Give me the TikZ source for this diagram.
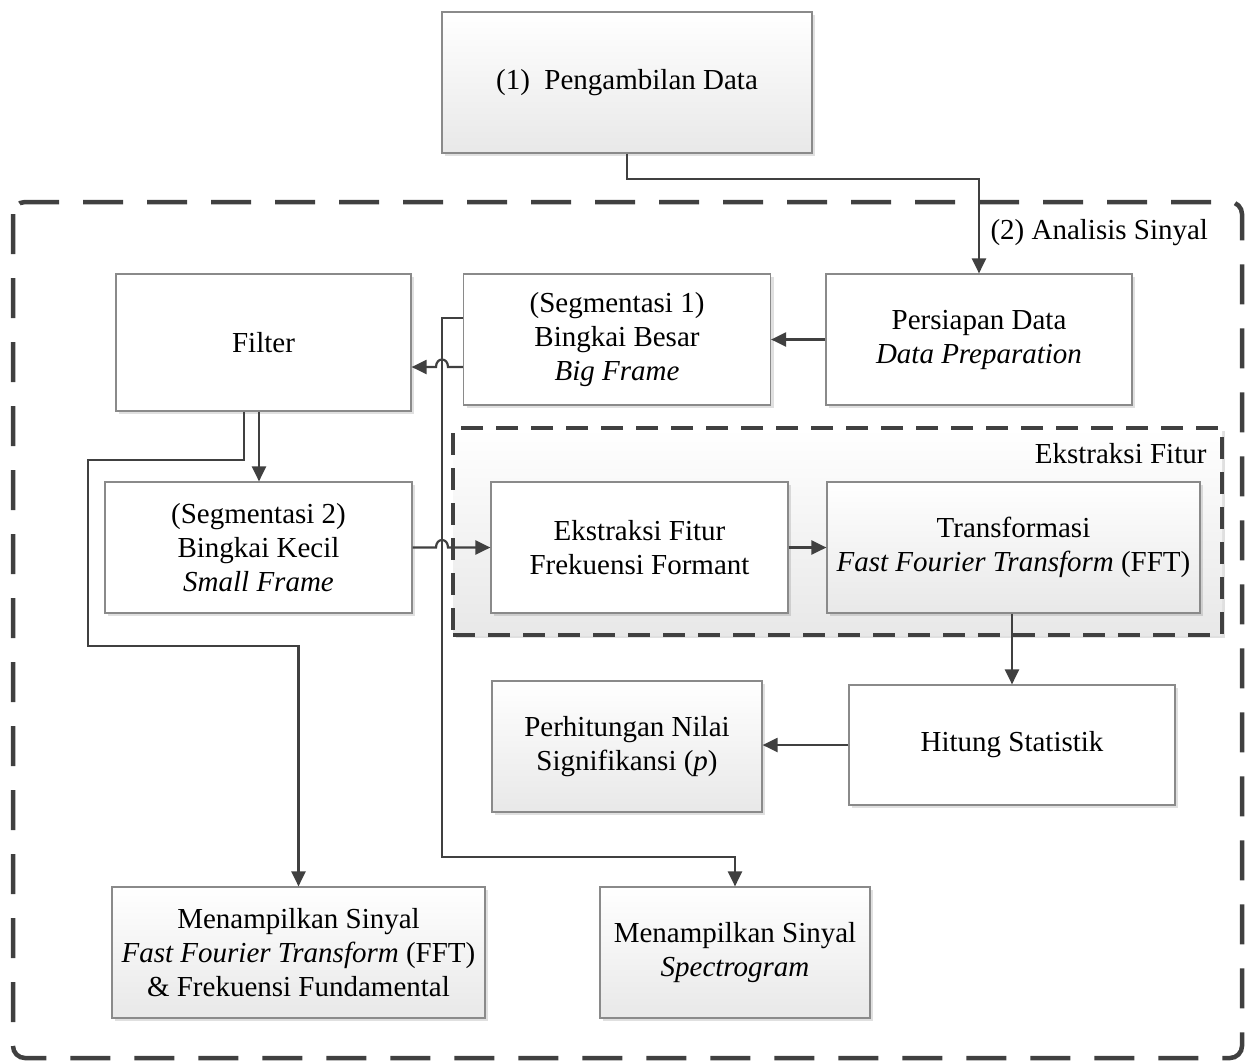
\documentclass[tikz,border=0pt]{standalone}
\usepackage{fontspec}
\setmainfont{Liberation Serif}
\usetikzlibrary{arrows.meta,shadows}
\definecolor{ln}{HTML}{404040}
\definecolor{bd}{HTML}{8A8A8A}
\begin{document}
\begin{tikzpicture}[x=1pt,y=-1pt,
  txt/.style={font=\fontsize{29}{34}\selectfont, align=center},
  box/.style={txt, draw=bd, line width=1.2pt, fill=white, inner sep=0pt,
    drop shadow={shadow xshift=3pt, shadow yshift=-3pt, fill=black, opacity=0.12}},
  gbox/.style={box, top color=white, bottom color=black!9},
  conn/.style={draw=ln, line width=2.2pt, -{Triangle[length=15pt,width=14pt]}},
]
\useasboundingbox (0,0) rectangle (1245,1061);
% outer dashed frame
\draw[ln, line width=4.5pt, dash pattern=on 40pt off 24pt, rounded corners=12pt] (13,202) rectangle (1242,1058);
\node[txt, anchor=west] (lA) at (987,233) {(2) Analisis Sinyal};

% inner container
\node[draw=ln, line width=3.5pt, dash pattern=on 22pt off 13pt, top color=white, bottom color=black!9,
  minimum width=769pt, minimum height=207pt, inner sep=0pt,
  drop shadow={shadow xshift=3pt, shadow yshift=-3pt, fill=black, opacity=0.12}] (ef) at (837.5,531.5) {};
\node[txt, anchor=east] (lE) at (1210,454) {Ekstraksi Fitur};

% boxes
\node[gbox, minimum width=370pt, minimum height=141pt] (p1) at (627,82.5) {(1)\enspace Pengambilan Data};
\node[box, minimum width=306pt, minimum height=131pt] (pd) at (979,339.5) {Persiapan Data\\\textit{Data Preparation}};
\node[box, minimum width=307pt, minimum height=131pt] (s1) at (617,339.5) {(Segmentasi 1)\\Bingkai Besar\\\textit{Big Frame}};
\node[box, minimum width=295pt, minimum height=137pt] (fl) at (263.5,342.5) {Filter};
\node[box, minimum width=307pt, minimum height=131pt] (s2) at (258.5,547.5) {(Segmentasi 2)\\Bingkai Kecil\\\textit{Small Frame}};
\node[box, minimum width=297pt, minimum height=131pt] (ff) at (639.5,547.5) {Ekstraksi Fitur\\Frekuensi Formant};
\node[gbox, minimum width=373pt, minimum height=131pt] (tr) at (1013.5,547.5) {Transformasi\\\textit{Fast Fourier Transform} (FFT)};
\node[box, minimum width=326pt, minimum height=120pt] (hs) at (1012,745) {Hitung Statistik};
\node[gbox, minimum width=270pt, minimum height=131pt] (pn) at (627,746.5) {Perhitungan Nilai\\Signifikansi (\textit{p})};
\node[gbox, minimum width=373pt, minimum height=131pt] (mf) at (298.5,952.5) {Menampilkan Sinyal\\\textit{Fast Fourier Transform} (FFT)\\\& Frekuensi Fundamental};
\node[gbox, minimum width=270pt, minimum height=131pt] (ms) at (735,952.5) {Menampilkan Sinyal\\\textit{Spectrogram}};

% helper coordinates
\coordinate (hA) at (442,367);
\coordinate (t1) at (442,318);
\coordinate (b1) at (442,857);
\coordinate (fa) at (244,460);
\coordinate (fb) at (88,646);
\coordinate (fc) at (259,0);
\coordinate (k1) at (627,179);

% connectors
\draw[conn] (p1.south) -- (k1) -| (pd.north);
\draw[conn] (pd.west) -- (s1.east |- pd.west);
\draw[conn] (s1.west |- hA) -- (448,367) .. controls (448,357) and (436,357) .. (436,367) -- (fl.east |- hA);
\draw[conn] (s1.west |- t1) -- (t1) -- (b1) -| (ms.north);
\draw[conn] (fl.south -| fa) -- (fa) -- (fa -| fb) -- (fb) -| (mf.north);
\draw[conn] (fl.south -| fc) -- (s2.north -| fc);
\draw[conn] (s2.east) -- (436,547.5) .. controls (436,537.5) and (448,537.5) .. (448,547.5) -- (ff.west);
\draw[conn] (ff.east) -- (tr.west);
\draw[conn] (tr.south -| hs.north) -- (hs.north);
\draw[conn] (hs.west) -- (pn.east |- hs.west);
\end{tikzpicture}
\end{document}
